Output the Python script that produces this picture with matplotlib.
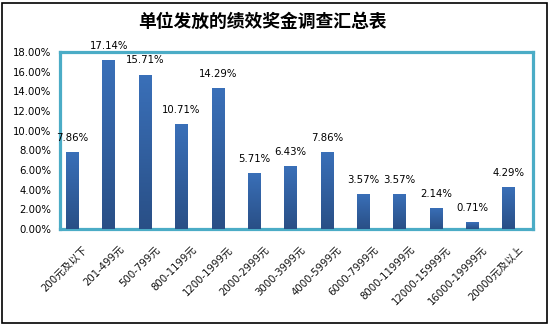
import matplotlib
matplotlib.use("Agg")
from matplotlib import pyplot as plt
from matplotlib.patches import Rectangle
from matplotlib.ticker import PercentFormatter
from matplotlib.transforms import ScaledTranslation
import numpy as np

plt.rcParams['font.family'] = ['DejaVu Sans', 'Noto Sans CJK SC']

title = "单位发放的绩效奖金调查汇总表"
categories = ["200元及以下", "201-499元", "500-799元", "800-1199元", "1200-1999元",
              "2000-2999元", "3000-3999元", "4000-5999元", "6000-7999元",
              "8000-11999元", "12000-15999元", "16000-19999元", "20000元及以上"]
shares = [7.86, 17.14, 15.71, 10.71, 14.29, 5.71, 6.43, 7.86,
          3.57, 3.57, 2.14, 0.71, 4.29]

vals = np.array(shares) / 100
x = np.arange(len(categories))

fig = plt.figure(figsize=(5.5, 3.25), dpi=100)
ax = fig.add_axes([60/550, 1 - 229/325, 473/550, 177/325])

bars = ax.bar(x, vals, width=0.35, color="#3064a8", zorder=2)

# vertical gradient on each bar
grad = np.linspace(0, 1, 256).reshape(-1, 1)
cmap = matplotlib.colors.LinearSegmentedColormap.from_list("g", ["#294f86", "#3a70b9"])
for b in bars:
    x0, w, h = b.get_x(), b.get_width(), b.get_height()
    im = ax.imshow(grad, cmap=cmap, origin="lower", aspect="auto",
                   extent=[x0, x0 + w, 0, h], zorder=3)
    im.set_clip_path(b)

for xi, v, s in zip(x, vals, shares):
    ax.annotate(f"{s:.2f}%", (xi, v), xytext=(0, 6.5), textcoords="offset points",
                ha="center", va="bottom", fontsize=7.3, color="black", zorder=4)

ax.set_xlim(-0.344, 12.67)
ax.set_ylim(0, 0.18)
ax.set_yticks(np.arange(0, 0.181, 0.02))
ax.yaxis.set_major_formatter(PercentFormatter(1, decimals=2))
ax.tick_params(axis="y", length=0, pad=6.5, labelsize=7.3, labelcolor="black")
ax.set_xticks([])

for sp in ax.spines.values():
    sp.set_color("#4bacc6")
    sp.set_linewidth(2.3)

off = ax.get_xaxis_transform() + ScaledTranslation(9.5/100, -15/100, fig.dpi_scale_trans)
for xi, lab in zip(x, categories):
    ax.text(xi, 0, lab, transform=off, rotation=45, ha="right", va="top",
            rotation_mode="anchor", fontsize=7.3, color="#111111")

fig.text(262/550, 1 - 21.5/325, title, ha="center", va="center",
         fontsize=12.8, fontweight="bold", family=["Noto Sans CJK SC"])

fig.patches.append(Rectangle((1.5/550, 2.5/325), 545.5/550, 320/325,
                             transform=fig.transFigure, fill=False,
                             edgecolor="black", linewidth=1.2))

fig.savefig("out.png", dpi=100)
